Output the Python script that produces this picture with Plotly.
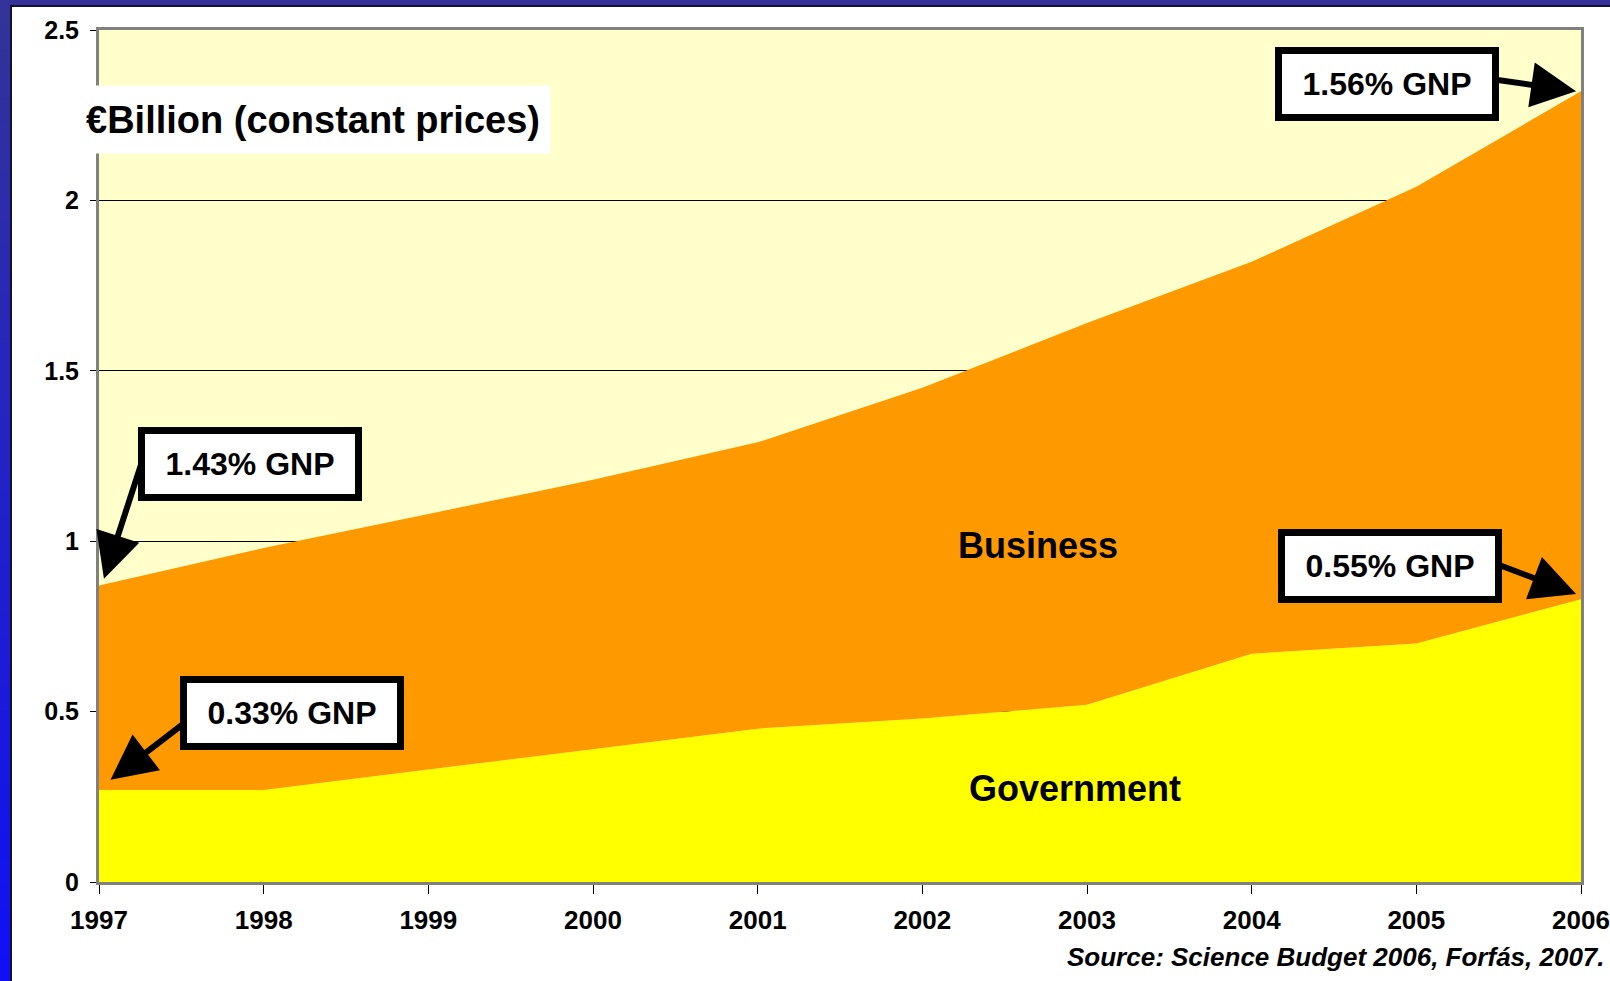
import plotly.graph_objects as go


# ==========================================================
# Data (EUR billion, constant prices)
# ==========================================================

YEARS = [1997, 1998, 1999, 2000, 2001, 2002, 2003, 2004, 2005, 2006]

GOVERNMENT = [0.27, 0.27, 0.33, 0.39, 0.45, 0.48, 0.52, 0.67, 0.70, 0.83]

BUSINESS = [0.60, 0.71, 0.75, 0.79, 0.84, 0.97, 1.12, 1.15, 1.34, 1.49]

Y_TICKS = [0, 0.5, 1, 1.5, 2, 2.5]
Y_TICK_TEXT = ["0", "0.5", "1", "1.5", "2", "2.5"]

GNP_LABELS = ["1.43% GNP", "0.33% GNP", "1.56% GNP", "0.55% GNP"]


# ==========================================================
# Theme
# ==========================================================

GOV_COLOR = "#FFFF00"
BUS_COLOR = "#FF9900"
PLOT_BG = "#FFFFCC"
FONT = "Liberation Sans, Arial, sans-serif"

W, H = 1610, 981
MARGIN = dict(l=99, r=29, t=30, b=99)


fig = go.Figure()

fig.add_trace(go.Scatter(
    x=YEARS, y=GOVERNMENT, name="Government",
    mode="lines", stackgroup="one",
    line=dict(width=0, color=GOV_COLOR),
    fillcolor=GOV_COLOR
))

fig.add_trace(go.Scatter(
    x=YEARS, y=BUSINESS, name="Business",
    mode="lines", stackgroup="one",
    line=dict(width=0, color=BUS_COLOR),
    fillcolor=BUS_COLOR
))


# ==========================================================
# Layout
# ==========================================================

fig.update_layout(
    width=W,
    height=H,
    autosize=False,
    margin=dict(MARGIN, autoexpand=False),
    paper_bgcolor="white",
    plot_bgcolor=PLOT_BG,
    showlegend=False,
    font=dict(family=FONT, color="black")
)

fig.update_xaxes(
    range=[1997, 2006],
    tickvals=YEARS,
    ticks="outside",
    ticklen=9,
    tickcolor="black",
    ticklabelstandoff=4,
    tickfont=dict(size=26, weight="bold"),
    showgrid=False,
    showline=True,
    linecolor="#808080",
    linewidth=3,
    mirror=True,
    zeroline=False
)

fig.update_yaxes(
    range=[0, 2.5],
    tickvals=Y_TICKS,
    ticktext=Y_TICK_TEXT,
    ticks="outside",
    ticklen=6,
    tickcolor="black",
    ticklabelstandoff=6,
    tickfont=dict(size=25, weight="bold"),
    showgrid=True,
    gridcolor="black",
    gridwidth=1,
    showline=True,
    linecolor="#808080",
    linewidth=3,
    mirror=True,
    zeroline=False
)


# ==========================================================
# Slide frame (blue border)
# ==========================================================

def rgb_mix(a, b, t):
    return "rgb(%d,%d,%d)" % tuple(round(a[i] + (b[i] - a[i]) * t) for i in range(3))


top_col = (51, 51, 153)
bot_col = (16, 16, 245)
plot_h = H - MARGIN["t"] - MARGIN["b"]
steps = 40
for i in range(steps):
    y0 = -MARGIN["b"] + (H * i) / steps
    y1 = -MARGIN["b"] + (H * (i + 1)) / steps + 1
    fig.add_shape(
        type="rect", xref="paper", yref="paper",
        xsizemode="pixel", ysizemode="pixel",
        xanchor=0, yanchor=0,
        x0=-MARGIN["l"], x1=-MARGIN["l"] + 10,
        y0=y0, y1=y1,
        line=dict(width=0),
        fillcolor=rgb_mix(bot_col, top_col, i / (steps - 1)),
        layer="above"
    )

fig.add_shape(
    type="rect", xref="paper", yref="paper",
    xsizemode="pixel", ysizemode="pixel",
    xanchor=0, yanchor=1,
    x0=-MARGIN["l"], x1=W - MARGIN["l"],
    y0=MARGIN["t"] - 5, y1=MARGIN["t"],
    line=dict(width=0), fillcolor="#333399", layer="above"
)

# thin dark edge inside the blue frame
fig.add_shape(
    type="rect", xref="paper", yref="paper",
    xsizemode="pixel", ysizemode="pixel",
    xanchor=0, yanchor=1,
    x0=-MARGIN["l"] + 10, x1=W - MARGIN["l"],
    y0=MARGIN["t"] - 7, y1=MARGIN["t"] - 5,
    line=dict(width=0), fillcolor="#111133", layer="above"
)
fig.add_shape(
    type="rect", xref="paper", yref="paper",
    xsizemode="pixel", ysizemode="pixel",
    xanchor=0, yanchor=0,
    x0=-MARGIN["l"] + 10, x1=-MARGIN["l"] + 12,
    y0=-MARGIN["b"], y1=plot_h + MARGIN["t"] - 5,
    line=dict(width=0), fillcolor="#111133", layer="above"
)


# ==========================================================
# Text labels
# ==========================================================

fig.add_annotation(
    x=0.1444, y=0.895, xref="paper", yref="paper",
    xanchor="center", yanchor="middle",
    text="€Billion (constant prices)",
    showarrow=False,
    bgcolor="white",
    width=472, height=65,
    font=dict(size=38, weight="bold")
)

fig.add_annotation(
    x=2002.70, y=0.988,
    text="Business", showarrow=False,
    font=dict(size=36, weight="bold")
)

fig.add_annotation(
    x=2002.93, y=0.273,
    text="Government", showarrow=False,
    font=dict(size=36, weight="bold")
)

fig.add_annotation(
    x=1.0175, y=-0.088, xref="paper", yref="paper",
    xanchor="right", yanchor="middle",
    text="Source: Science Budget 2006, Forfás, 2007.",
    showarrow=False,
    font=dict(size=26, weight="bold", style="italic")
)


# ==========================================================
# GNP call-outs: arrows first, boxes on top
# ==========================================================

# (tip x, tip y, tail x, tail y)
arrows = [
    (1997.03, 0.89, 1997.26, 1.232),
    (1997.07, 0.30, 1997.55, 0.478),
    (2005.97, 2.32, 2005.40, 2.36),
    (2005.97, 0.845, 2005.45, 0.94),
]

for tip_x, tip_y, tail_x, tail_y in arrows:
    fig.add_annotation(
        x=tip_x, y=tip_y,
        ax=tail_x, ay=tail_y,
        axref="x", ayref="y",
        text="",
        showarrow=True,
        arrowhead=2,
        arrowsize=1.5,
        arrowwidth=6,
        arrowcolor="black"
    )

# box centres
boxes = [
    (1997.92, 1.226),
    (1998.17, 0.496),
    (2004.82, 2.343),
    (2004.84, 0.927),
]

for (bx, by), label in zip(boxes, GNP_LABELS):
    fig.add_annotation(
        x=bx, y=by,
        text=label,
        showarrow=False,
        bgcolor="white",
        bordercolor="black",
        borderwidth=7,
        borderpad=4,
        width=202,
        height=52,
        font=dict(size=32, weight="bold")
    )


fig.write_html(
    "out.html",
    config={"displayModeBar": False, "responsive": False},
    post_script="document.body.style.margin='0';document.body.style.overflow='hidden';"
)
